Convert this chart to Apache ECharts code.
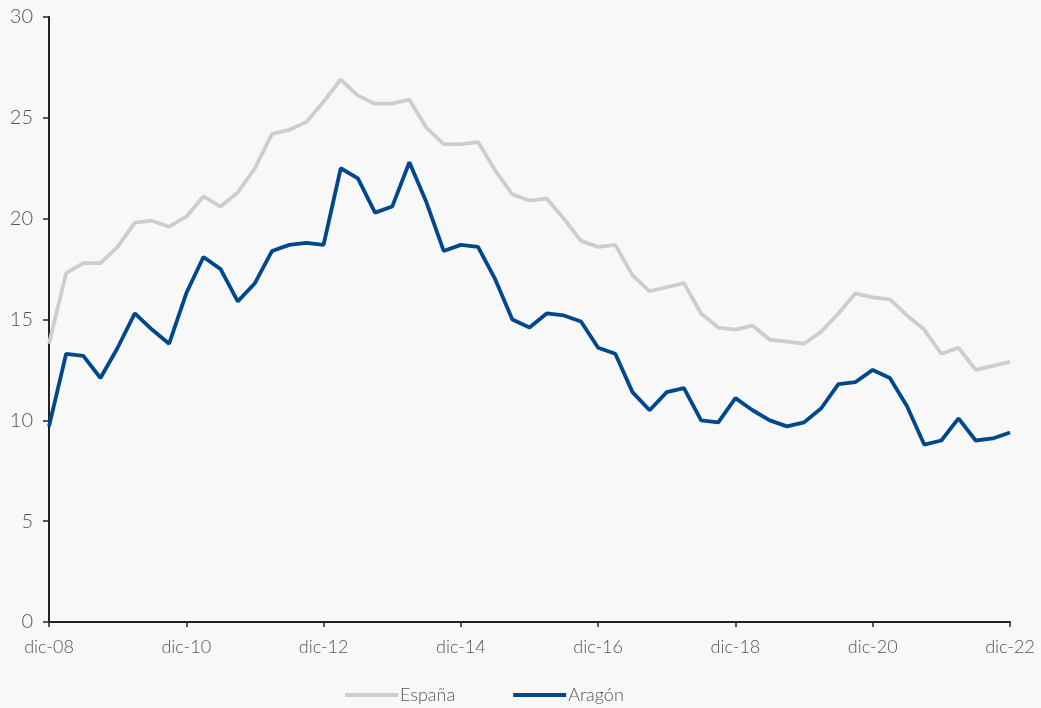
<!DOCTYPE html>
<html>
<head>
<meta charset="utf-8">
<script src="https://cdn.jsdelivr.net/npm/echarts@6/dist/echarts.min.js"></script>
<style>
  html, body { margin: 0; padding: 0; background: #f8f8f8; }
  #chart { width: 1041px; height: 708px; }
</style>
</head>
<body>
<div id="chart"></div>
<script>
// trimestres dic-08 .. dic-22
const months = ['dic', 'mar', 'jun', 'sep'];
const categories = [];
for (let i = 0; i < 57; i++) {
    const m = months[i % 4];
    const yr = 8 + Math.floor((i + 3) / 4);
    categories.push(m + '-' + String(yr).padStart(2, '0'));
}

const espana = [
    13.8, 17.3, 17.8, 17.8, 18.6, 19.8, 19.9, 19.6, 20.1, 21.1,
    20.6, 21.3, 22.5, 24.2, 24.4, 24.8, 25.8, 26.9, 26.1, 25.7,
    25.7, 25.9, 24.5, 23.7, 23.7, 23.8, 22.4, 21.2, 20.9, 21.0,
    20.0, 18.9, 18.6, 18.7, 17.2, 16.4, 16.6, 16.8, 15.3, 14.6,
    14.5, 14.7, 14.0, 13.9, 13.8, 14.4, 15.3, 16.3, 16.1, 16.0,
    15.2, 14.5, 13.3, 13.6, 12.5, 12.7, 12.9
];

const aragon = [
    9.7, 13.3, 13.2, 12.1, 13.6, 15.3, 14.5, 13.8, 16.3, 18.1,
    17.5, 15.9, 16.8, 18.4, 18.7, 18.8, 18.7, 22.5, 22.0, 20.3,
    20.6, 22.8, 20.8, 18.4, 18.7, 18.6, 17.0, 15.0, 14.6, 15.3,
    15.2, 14.9, 13.6, 13.3, 11.4, 10.5, 11.4, 11.6, 10.0, 9.9,
    11.1, 10.5, 10.0, 9.7, 9.9, 10.6, 11.8, 11.9, 12.5, 12.1,
    10.7, 8.8, 9.0, 10.1, 9.0, 9.1, 9.4
];

const textFont = { fontFamily: 'Lato', fontWeight: 300, color: '#555' };

const chart = echarts.init(document.getElementById('chart'));
chart.setOption({
    backgroundColor: '#f8f8f8',
    animation: false,
    grid: { left: 49, right: 31, top: 17, bottom: 86, containLabel: false },
    legend: {
        left: 345,
        top: 686,
        padding: 0,
        itemWidth: 53,
        itemHeight: 4,
        itemGap: 58,
        icon: 'rect',
        textStyle: Object.assign({ fontSize: 18, padding: [0, 0, 0, -3] }, textFont),
        data: ['España', 'Aragón']
    },
    xAxis: {
        type: 'category',
        data: categories,
        boundaryGap: false,
        axisLine: { lineStyle: { color: '#222', width: 2 } },
        axisTick: { interval: 7, length: 5, lineStyle: { color: '#222', width: 1.5 } },
        axisLabel: Object.assign({ interval: 7, margin: 16, fontSize: 18 }, textFont)
    },
    yAxis: {
        type: 'value',
        min: 0,
        max: 30,
        interval: 5,
        splitLine: { show: false },
        axisLine: { show: true, lineStyle: { color: '#222', width: 2 } },
        axisTick: { show: true, length: 6, lineStyle: { color: '#222', width: 1.5 } },
        axisLabel: Object.assign({ margin: 16, fontSize: 20 }, textFont)
    },
    series: [
        {
            name: 'España',
            type: 'line',
            data: espana,
            symbol: 'none',
            lineStyle: { color: '#c9cfd1', width: 3.8 },
            itemStyle: { color: '#c9cfd1' }
        },
        {
            name: 'Aragón',
            type: 'line',
            data: aragon,
            symbol: 'none',
            lineStyle: { color: '#00488d', width: 3.8 },
            itemStyle: { color: '#00488d' }
        }
    ]
});
</script>
</body>
</html>
